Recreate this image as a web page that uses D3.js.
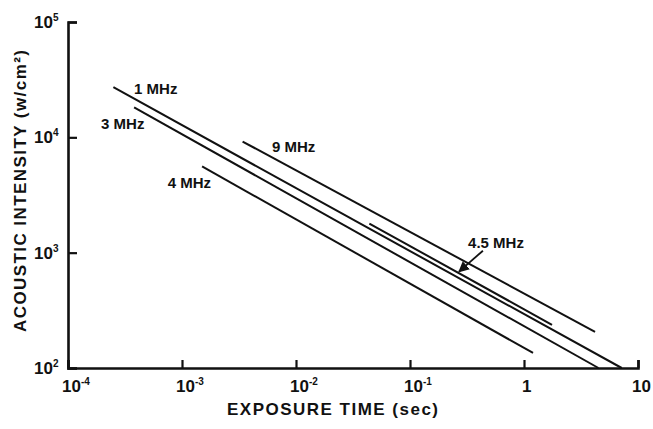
<!DOCTYPE html>
<html>
<head>
<meta charset="utf-8">
<script src="https://cdn.jsdelivr.net/npm/d3@7"></script>
<style>
  body { margin: 0; background: #fff; }
  text { font-family: "Liberation Sans", Arial, sans-serif; font-weight: bold; fill: #111; }
</style>
</head>
<body>
<svg id="chart"></svg>
<script>
// values (time in sec, intensity in w/cm2)
const freqs  = ["1 MHz", "3 MHz", "4 MHz", "9 MHz", "4.5 MHz"]
const tStart = [2.5e-4, 3.8e-4, 1.5e-3, 3.4e-3, 0.044]
const iStart = [2.72e4, 1.82e4, 5.6e3, 9.2e3, 1.79e3]
const tEnd   = [7.2, 4.5, 1.2, 4.2, 1.76]
const iEnd   = [100, 100, 135, 206, 237]

// where each label sits, in data units
const labelT = [3.8e-4, 1.95e-4, 7.5e-4, 6.15e-3, 0.323]
const labelI = [2.37e4, 1.17e4, 3.67e3, 7.4e3, 1.10e3]

// the little arrow pointing at 4.5 MHz
const arrowFrom = [0.436, 1040]
const arrowTo   = [0.269, 684]

const xTicks = [1e-4, 1e-3, 1e-2, 1e-1, 1, 10]
const xTickBase = ["10", "10", "10", "10", "1", "10"]
const xTickExp  = ["-4", "-3", "-2", "-1", "", ""]
const yTicks = [1e2, 1e3, 1e4, 1e5]
const yTickExp = ["2", "3", "4", "5"]

const width = 653, height = 429
const margin = {top: 22, right: 15, bottom: 61, left: 68}

const svg = d3.select("#chart").attr("width", width).attr("height", height)

const x = d3.scaleLog().domain([1e-4, 10]).range([margin.left, width - margin.right])
const y = d3.scaleLog().domain([1e2, 1e5]).range([height - margin.bottom, margin.top])

svg.append("defs").append("marker")
    .attr("id", "head")
    .attr("viewBox", "0 0 10 10")
    .attr("refX", 9).attr("refY", 5)
    .attr("markerWidth", 6).attr("markerHeight", 6)
    .attr("orient", "auto")
  .append("path").attr("d", "M0,0L10,5L0,10z").attr("fill", "#111")

// axes
const xAxis = svg.append("g")
    .attr("transform", `translate(0,${height - margin.bottom})`)
    .call(d3.axisBottom(x).tickValues(xTicks).tickSize(-8).tickFormat(""))
const yAxis = svg.append("g")
    .attr("transform", `translate(${margin.left},0)`)
    .call(d3.axisLeft(y).tickValues(yTicks).tickSize(-9).tickFormat(""))

;[xAxis, yAxis].forEach(g => {
    g.select(".domain").attr("stroke", "#111").attr("stroke-width", 2.6)
    g.selectAll(".tick line").attr("stroke", "#111").attr("stroke-width", 2.2)
})

// x tick labels with superscripts
xTicks.forEach((t, i) => {
    const tx = svg.append("text")
        .attr("x", x(t) - (xTickBase[i] == "10" ? 6 : 2))
        .attr("y", height - margin.bottom + 24)
        .attr("font-size", 17)
    tx.append("tspan").text(xTickBase[i])
    if (xTickExp[i]) {
        tx.append("tspan").attr("dy", -7).attr("font-size", 10).text(xTickExp[i])
    }
})

// y tick labels
yTicks.forEach((v, i) => {
    const ty = svg.append("text")
        .attr("x", margin.left - 34)
        .attr("y", y(v) + 6)
        .attr("font-size", 17)
    ty.append("tspan").text("10")
    ty.append("tspan").attr("dy", -7).attr("font-size", 10).text(yTickExp[i])
})

// axis titles
svg.append("text")
    .attr("x", 227).attr("y", 415)
    .attr("font-size", 17)
    .attr("textLength", 211)
    .text("EXPOSURE TIME (sec)")

svg.append("text")
    .attr("transform", `translate(26,332) rotate(-90)`)
    .attr("font-size", 17)
    .attr("textLength", 282)
    .text("ACOUSTIC INTENSITY (w/cm²)")

// the lines
svg.append("g").selectAll("line")
    .data(freqs)
    .join("line")
    .attr("x1", (d, i) => x(tStart[i]))
    .attr("y1", (d, i) => y(iStart[i]))
    .attr("x2", (d, i) => x(tEnd[i]))
    .attr("y2", (d, i) => y(iEnd[i]))
    .attr("stroke", "#111")
    .attr("stroke-width", 2)

svg.append("g").selectAll("text")
    .data(freqs)
    .join("text")
    .attr("x", (d, i) => x(labelT[i]))
    .attr("y", (d, i) => y(labelI[i]))
    .attr("font-size", 15)
    .text(d => d)

svg.append("line")
    .attr("x1", x(arrowFrom[0])).attr("y1", y(arrowFrom[1]))
    .attr("x2", x(arrowTo[0])).attr("y2", y(arrowTo[1]))
    .attr("stroke", "#111").attr("stroke-width", 1.8)
    .attr("marker-end", "url(#head)")
</script>
</body>
</html>
